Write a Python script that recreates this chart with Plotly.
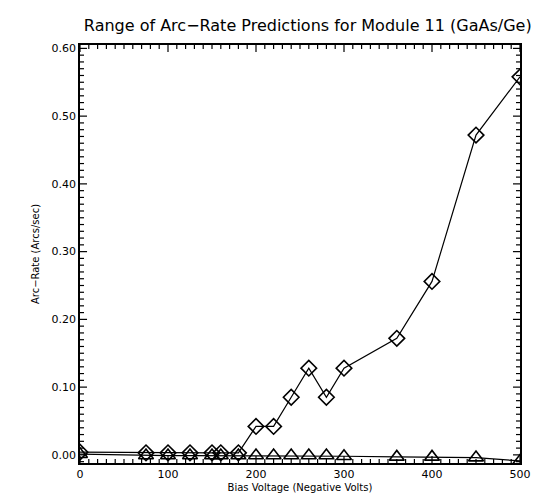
import plotly.graph_objects as go

######################################
# Data
######################################

bias_volts = [0, 75, 100, 125, 150, 160, 180, 200, 220, 240, 260, 280, 300, 360, 400, 450, 500]
rate_high = [0.004, 0.003, 0.003, 0.003, 0.003, 0.003, 0.003, 0.042, 0.042, 0.085, 0.128, 0.085,
             0.128, 0.172, 0.256, 0.472, 0.558]
rate_low = [0.001, -0.001, -0.001, -0.001, -0.001, -0.001, -0.001, -0.001, -0.001, -0.001,
            -0.001, -0.001, -0.002, -0.003, -0.003, -0.004, -0.009]

x_range = [0, 500]
y_range = [-0.012, 0.605]

######################################
# Figure
######################################

font_name = "DejaVu Sans"

fig = go.Figure()
fig.add_trace(go.Scatter(x=bias_volts, y=rate_low, mode="lines+markers",
                         line=dict(color="black", width=1.2),
                         marker=dict(symbol="triangle-up-open", size=13,
                                     color="black", line=dict(width=1.6))))
fig.add_trace(go.Scatter(x=bias_volts, y=rate_high, mode="lines+markers",
                         line=dict(color="black", width=1.2),
                         marker=dict(symbol="diamond-open", size=12,
                                     color="black", line=dict(width=1.6))))

# inward tick marks on all four sides, placed on the axes' own scales
tick_line = dict(color="black", width=1.2)
for i in range(0, 51):
    xv = i * 10
    ln = 0.017 if i % 10 == 0 else 0.0096
    fig.add_shape(type="line", xref="x", yref="y domain", x0=xv, x1=xv, y0=0, y1=ln, line=tick_line)
    fig.add_shape(type="line", xref="x", yref="y domain", x0=xv, x1=xv, y0=1, y1=1 - ln, line=tick_line)
for i in range(-1, 61):
    yv = i / 100
    ln = 0.016 if i % 10 == 0 else 0.0091
    fig.add_shape(type="line", xref="x domain", yref="y", x0=0, x1=ln, y0=yv, y1=yv, line=tick_line)
    fig.add_shape(type="line", xref="x domain", yref="y", x0=1, x1=1 - ln, y0=yv, y1=yv, line=tick_line)

axis_common = dict(showgrid=False, zeroline=False, showline=True, linecolor="black",
                   linewidth=1.5, mirror=True, ticks="",
                   tickfont=dict(family=font_name, size=11, color="black"))

fig.update_layout(
    width=547, height=501,
    margin=dict(l=72, r=35, t=37, b=46),
    paper_bgcolor="white", plot_bgcolor="white",
    showlegend=False,
    title=dict(text="Range of Arc\u2212Rate Predictions for Module 11 (GaAs/Ge)",
               x=0.548, xanchor="center", y=0.966, yanchor="middle",
               font=dict(family=font_name, size=16, color="black")),
    xaxis=dict(range=x_range, tick0=0, dtick=100,
               title=dict(text="Bias Voltage (Negative Volts)", standoff=4,
                          font=dict(family=font_name, size=10, color="black")),
               **axis_common),
    yaxis=dict(range=y_range, tick0=0, dtick=0.1, tickformat=".2f",
               title=dict(text="Arc\u2212Rate (Arcs/sec)", standoff=10,
                          font=dict(family=font_name, size=10, color="black")),
               **axis_common),
)

fig.write_html("out.html")
